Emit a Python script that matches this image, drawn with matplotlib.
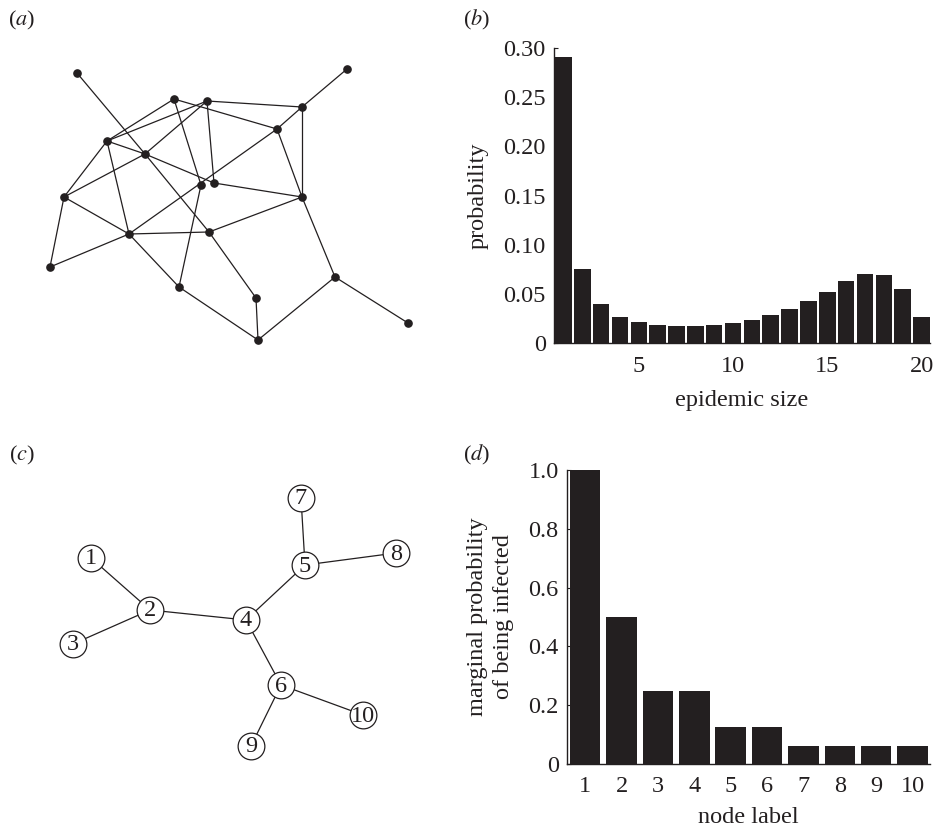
import numpy as np
import matplotlib.pyplot as plt

plt.rcParams['font.family'] = ['Liberation Serif', 'DejaVu Serif']
plt.rcParams['mathtext.fontset'] = 'stix'
ink = '#231f20'
fs = 17.5

# panel (a): network layout (pixel positions)
net_x = [77, 347, 174, 207, 302, 277, 107, 145, 201, 214,
         64, 302, 129, 209, 50, 335, 179, 256, 258, 408]
net_y = [73, 69, 99, 101, 107, 129, 141, 154, 185, 183,
         197, 197, 234, 232, 267, 277, 287, 298, 340, 323]
net_edges = [(0, 7), (7, 13), (1, 4), (2, 6), (2, 8), (2, 5), (3, 4), (3, 6),
             (3, 7), (3, 9), (4, 5), (4, 11), (5, 11), (5, 12), (6, 7), (6, 10),
             (6, 12), (7, 10), (7, 9), (9, 11), (10, 12), (10, 14), (14, 12),
             (12, 13), (12, 16), (8, 16), (13, 11), (13, 17), (11, 15),
             (16, 18), (17, 18), (18, 15), (15, 19)]

# panel (b): epidemic size distribution
sizes = np.arange(1, 21)
size_prob = [0.291, 0.0752, 0.0396, 0.0268, 0.021, 0.0183, 0.0173, 0.0173,
             0.018, 0.0203, 0.0237, 0.0281, 0.0346, 0.0427, 0.0522, 0.0627,
             0.0698, 0.0695, 0.0549, 0.0261]

# panel (c): tree
tree_labels = ['1', '2', '3', '4', '5', '6', '7', '8', '9', '10']
tree_x = [91, 150, 73, 246, 305, 281, 301, 396, 251, 363]
tree_y = [558, 610, 644, 620, 565, 685, 498, 553, 746, 715]
tree_edges = [(0, 1), (1, 2), (1, 3), (3, 4), (3, 5), (4, 6), (4, 7), (5, 8), (5, 9)]

# panel (d): marginal infection probability
node_ids = np.arange(1, 11)
marginal = [1.0, 0.5, 0.25, 0.25, 0.125, 0.125, 0.0625, 0.0625, 0.0625, 0.0625]

W, H = 939, 827
fig = plt.figure(figsize=(W / 100, H / 100), dpi=100)

# network panels drawn on an overlay in pixel coordinates
net = fig.add_axes([0, 0, 1, 1])
net.set_xlim(0, W)
net.set_ylim(H, 0)
net.axis('off')
for i, j in net_edges:
    net.plot([net_x[i], net_x[j]], [net_y[i], net_y[j]], color=ink, lw=0.9, zorder=1)
net.plot(net_x, net_y, 'o', color=ink, ms=5.2, zorder=2)

for i, j in tree_edges:
    net.plot([tree_x[i], tree_x[j]], [tree_y[i], tree_y[j]], color=ink, lw=0.9, zorder=1)
net.scatter(tree_x, tree_y, s=370, facecolor='white', edgecolor=ink, linewidth=0.9, zorder=2)
for lab, x, y in zip(tree_labels, tree_x, tree_y):
    net.text(x, y + 1, lab, ha='center', va='center', fontsize=fs, color=ink, zorder=3)

for lab, x, y in [('a', 22, 20), ('b', 477, 20), ('c', 22, 455), ('d', 477, 455)]:
    net.text(x, y, '(' + r'$\it{' + lab + '}$' + ')', ha='center', va='center',
             fontsize=16, color=ink)


def style(ax):
    ax.set_axisbelow(True)
    for s in ['top', 'right']:
        ax.spines[s].set_visible(False)
    for s in ['left', 'bottom']:
        ax.spines[s].set_color(ink)
        ax.spines[s].set_linewidth(1.0)
    ax.tick_params(direction='in', length=3, width=0.8, colors=ink, labelsize=fs)
    ax.tick_params(axis='y', pad=6)
    ax.tick_params(axis='x', pad=9)


axb = fig.add_axes([554 / W, 1 - 343 / H, 376 / W, 295 / H])
axb.bar(sizes, size_prob, width=0.88, color=ink, edgecolor='none')
axb.set_xlim(0.5, 20.45)
axb.set_ylim(0, 0.30)
axb.set_xticks([5, 10, 15, 20])
axb.set_yticks([0, 0.05, 0.10, 0.15, 0.20, 0.25, 0.30])
axb.set_yticklabels(['0', '0.05', '0.10', '0.15', '0.20', '0.25', '0.30'])
axb.set_xlabel('epidemic size', fontsize=fs, color=ink, labelpad=10)
axb.set_ylabel('probability', fontsize=fs, color=ink, labelpad=10)
style(axb)

axd = fig.add_axes([567 / W, 1 - 764 / H, 363 / W, 294 / H])
axd.bar(node_ids, marginal, width=0.84, color=ink, edgecolor='none')
axd.set_xlim(0.5, 10.48)
axd.set_ylim(0, 1.0)
axd.set_xticks(node_ids)
axd.set_yticks([0, 0.2, 0.4, 0.6, 0.8, 1.0])
axd.set_yticklabels(['0', '0.2', '0.4', '0.6', '0.8', '1.0'])
axd.set_xlabel('node label', fontsize=fs, color=ink, labelpad=6.5)
axd.set_ylabel('marginal probability\nof being infected', fontsize=fs, color=ink,
               labelpad=10, linespacing=1.35)
style(axd)

fig.savefig('out.png', dpi=100)
